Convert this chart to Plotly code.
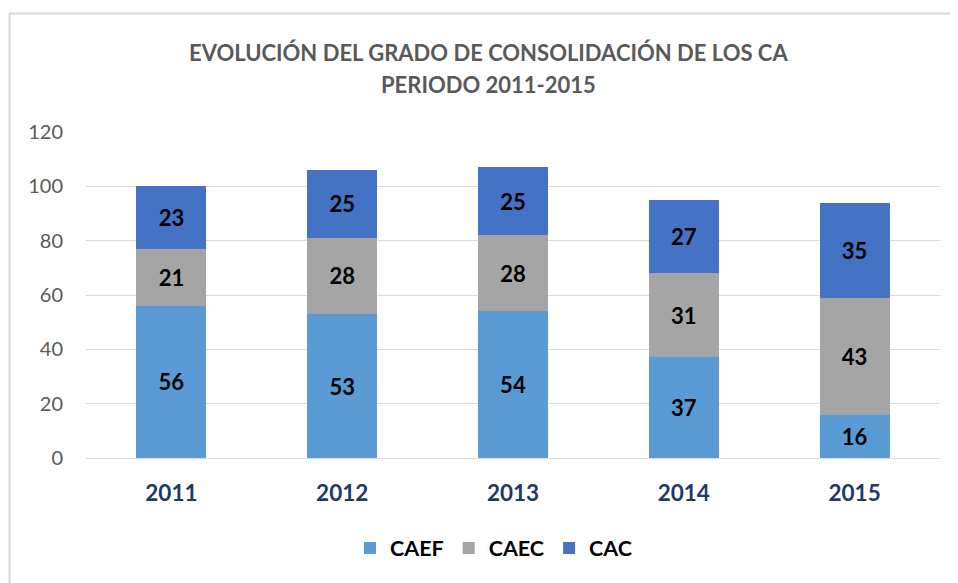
import plotly.graph_objects as go

years = ["2011", "2012", "2013", "2014", "2015"]
caef = [56, 53, 54, 37, 16]
caec = [21, 28, 28, 31, 43]
cac = [23, 25, 25, 27, 35]
series_names = ["CAEF", "CAEC", "CAC"]
colors = ["#5B9BD5", "#A5A5A5", "#4472C4"]
y_ticks = [0, 20, 40, 60, 80, 100, 120]
title_lines = ["EVOLUCIÓN DEL GRADO DE CONSOLIDACIÓN DE LOS CA", "PERIODO 2011-2015"]

FONT = "Lato"

fig = go.Figure()
for name, vals, col in zip(series_names, [caef, caec, cac], colors):
    fig.add_trace(go.Bar(
        x=years, y=vals, name=name,
        marker=dict(color=col, line=dict(width=0)),
        text=vals, texttemplate="%{text}",
        textposition="inside", insidetextanchor="middle", textangle=0,
        textfont=dict(family=FONT, size=22, color="black", weight="bold"),
        hoverinfo="x+y+name",
    ))

# page is offset by the default 8px body margin
OFF = 8
W, H = 958 - OFF, 583 - OFF
L = 86 - OFF
T = 132 - OFF
R = W - (940 - OFF)
B = H - (458 - OFF)
pw, ph = W - L - R, H - T - B

def px_x(p):
    return (p - OFF - L) / pw

def px_y(p):
    return (H - B - (p - OFF)) / ph

annotations = []
for txt, ypix in zip(title_lines, [52, 85]):
    annotations.append(dict(
        text=txt, x=px_x(488), xref="paper",
        y=px_y(ypix), yref="paper", xanchor="center", yanchor="middle",
        showarrow=False,
        font=dict(family=FONT, size=22, color="#595959", weight="bold"),
    ))

fig.update_layout(
    width=W, height=H,
    margin=dict(l=L, r=R, t=T, b=B, autoexpand=False),
    paper_bgcolor="white", plot_bgcolor="white",
    barmode="stack", bargap=0.59,
    font=dict(family=FONT),
    showlegend=True,
    legend=dict(
        orientation="h", x=px_x(494), xanchor="center",
        y=px_y(548), yanchor="middle",
        font=dict(family=FONT, size=21.5, color="black", weight="bold"),
        traceorder="normal",
    ),
    xaxis=dict(
        tickfont=dict(family=FONT, size=22.5, color="#1F3864", weight="bold"),
        showgrid=False, showline=True, linecolor="#D9D9D9", linewidth=1,
        ticks="", ticklabelstandoff=15,
    ),
    yaxis=dict(
        range=[0, 120], tickvals=y_ticks,
        tickfont=dict(family=FONT, size=20, color="#595959"),
        showgrid=True, gridcolor="#D9D9D9", gridwidth=1,
        zeroline=False, showline=False, ticks="", ticklabelstandoff=22,
    ),
    annotations=annotations,
    shapes=[dict(
        type="rect", xref="paper", yref="paper",
        x0=px_x(9.5), x1=px_x(975), y0=px_y(600), y1=px_y(13.5),
        line=dict(color="#D9D9D9", width=2), fillcolor="rgba(0,0,0,0)",
        layer="below",
    )],
)

fig.write_html("out.html")
